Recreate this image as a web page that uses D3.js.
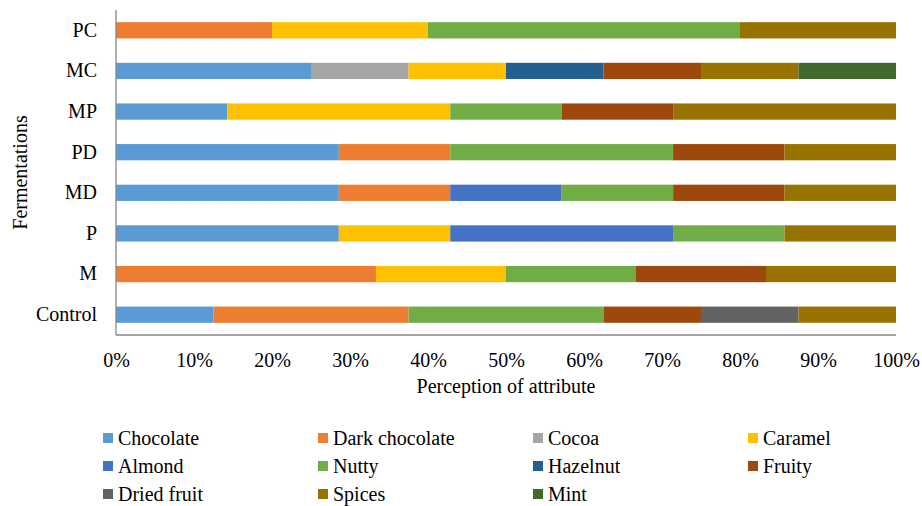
<!DOCTYPE html>
<html>
<head>
<meta charset="utf-8">
<script src="https://cdn.jsdelivr.net/npm/d3@7"></script>
<style>
  html, body { margin: 0; padding: 0; background: #fff; }
  svg { display: block; }
</style>
</head>
<body>
<svg id="chart" width="922" height="506"></svg>
<script>
// Fermentation samples, top to bottom
const fermentations = ["PC", "MC", "MP", "PD", "MD", "P", "M", "Control"];

// Sensory attributes (stack order and legend order)
const attributes = ["Chocolate", "Dark chocolate", "Cocoa", "Caramel", "Almond", "Nutty",
                    "Hazelnut", "Fruity", "Dried fruit", "Spices", "Mint"];

const attributeColors = ["#5B9BD5", "#ED7D31", "#A5A5A5", "#FFC000", "#4472C4", "#70AD47",
                         "#255E91", "#9E480E", "#636363", "#997300", "#43682B"];

// Perception share (%) of each attribute, one array per attribute, in fermentation order
const chocolate     = [0,    25,   14.29, 28.57, 28.57, 28.57, 0,     12.5];
const darkChocolate = [20,   0,    0,     14.29, 14.29, 0,     33.33, 25];
const cocoa         = [0,    12.5, 0,     0,     0,     0,     0,     0];
const caramel       = [20,   12.5, 28.57, 0,     0,     14.29, 16.67, 0];
const almond        = [0,    0,    0,     0,     14.29, 28.57, 0,     0];
const nutty         = [40,   0,    14.29, 28.57, 14.29, 14.29, 16.67, 25];
const hazelnut      = [0,    12.5, 0,     0,     0,     0,     0,     0];
const fruity        = [0,    12.5, 14.29, 14.29, 14.29, 0,     16.67, 12.5];
const driedFruit    = [0,    0,    0,     0,     0,     0,     0,     12.5];
const spices        = [20,   12.5, 28.57, 14.29, 14.29, 14.29, 16.67, 12.5];
const mint          = [0,    12.5, 0,     0,     0,     0,     0,     0];

const xTicks = [0, 10, 20, 30, 40, 50, 60, 70, 80, 90, 100];

const seriesValues = [chocolate, darkChocolate, cocoa, caramel, almond, nutty,
                      hazelnut, fruity, driedFruit, spices, mint];

const FONT = "Liberation Serif";
const FONT_SIZE = "20px";

// Every text element gets the serif face directly
function serif(sel) {
  return sel.style("font-family", FONT).style("font-size", FONT_SIZE).attr("fill", "#000");
}

// Row table for d3.stack
const rows = fermentations.map((f, i) => {
  const r = { name: f };
  attributes.forEach((a, j) => { r[a] = seriesValues[j][i]; });
  return r;
});

const stacked = d3.stack().keys(attributes).offset(d3.stackOffsetExpand)(rows);

const svg = d3.select("#chart");

const margin = { left: 116, right: 26, top: 10, bottom: 171 };
const W = 922, H = 506;
const plotRight = W - margin.right;
const plotBottom = H - margin.bottom;

const x = d3.scaleLinear().domain([0, 1]).range([margin.left, plotRight]);
const y = d3.scaleBand().domain(fermentations).range([margin.top, plotBottom])
  .paddingInner(0.6).paddingOuter(0.3);

const color = d3.scaleOrdinal().domain(attributes).range(attributeColors);

// Bars
svg.append("g").selectAll("g")
  .data(stacked)
  .join("g")
  .attr("fill", d => color(d.key))
  .selectAll("rect")
  .data(d => d)
  .join("rect")
  .attr("x", d => x(d[0]))
  .attr("y", d => y(d.data.name))
  .attr("width", d => Math.max(0, x(d[1]) - x(d[0])))
  .attr("height", y.bandwidth());

// Axis lines
svg.append("line")
  .attr("x1", margin.left).attr("x2", margin.left)
  .attr("y1", margin.top).attr("y2", plotBottom)
  .attr("stroke", "#868686").attr("stroke-width", 1.3);
svg.append("line")
  .attr("x1", margin.left).attr("x2", plotRight)
  .attr("y1", plotBottom).attr("y2", plotBottom)
  .attr("stroke", "#868686").attr("stroke-width", 1.3);

// Category labels
const yAxis = d3.axisLeft(y).tickSize(0).tickPadding(19);
svg.append("g")
  .attr("transform", `translate(${margin.left},0)`)
  .call(yAxis)
  .attr("font-family", FONT)
  .attr("font-size", 20)
  .call(g => g.select(".domain").remove())
  .selectAll("text")
  .call(serif);

// Percentage ticks
const xAxis = d3.axisBottom(x).tickValues(xTicks.map(t => t / 100))
  .tickFormat((d, i) => xTicks[i] + "%").tickSize(0).tickPadding(18);
svg.append("g")
  .attr("transform", `translate(0,${plotBottom})`)
  .call(xAxis)
  .attr("font-family", FONT)
  .attr("font-size", 20)
  .call(g => g.select(".domain").remove())
  .selectAll("text")
  .call(serif);

// Axis titles
svg.append("text")
  .attr("x", (margin.left + plotRight) / 2)
  .attr("y", 393)
  .attr("text-anchor", "middle")
  .call(serif)
  .text("Perception of attribute");

svg.append("text")
  .attr("transform", `translate(27,${(margin.top + plotBottom) / 2}) rotate(-90)`)
  .attr("text-anchor", "middle")
  .call(serif)
  .text("Fermentations");

// Legend: four columns
const legend = svg.append("g");
const colX = [103, 318, 533, 748];
const rowY = [438, 466, 494];
attributes.forEach((a, i) => {
  const cx = colX[i % 4], cy = rowY[Math.floor(i / 4)];
  const g = legend.append("g").attr("transform", `translate(${cx},${cy})`);
  g.append("rect").attr("x", 0).attr("y", -5).attr("width", 10).attr("height", 10)
    .attr("fill", color(a));
  g.append("text").attr("x", 15).attr("y", 0).attr("dy", "0.35em")
    .call(serif)
    .text(a);
});
</script>
</body>
</html>
